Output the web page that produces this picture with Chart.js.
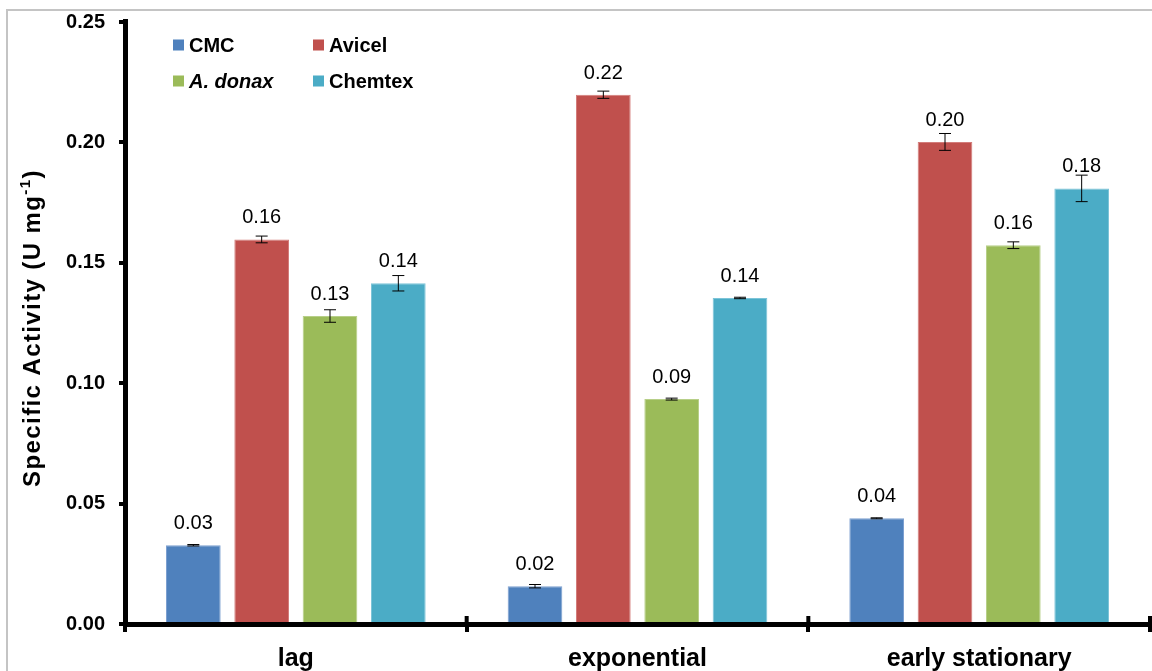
<!DOCTYPE html>
<html><head><meta charset="utf-8">
<script src="https://cdn.jsdelivr.net/npm/chart.js@4"></script>
<style>html,body{margin:0;padding:0;background:#fff;overflow:hidden;} canvas{display:block;}</style>
</head><body>
<canvas id="c" width="1152" height="671"></canvas>
<script>
// ---------- DATA ----------
const categories = ['lag', 'exponential', 'early stationary'];
const seriesNames = ['CMC', 'Avicel', 'A. donax', 'Chemtex'];
const cmcValues     = [0.0327, 0.0157, 0.0439];
const avicelValues  = [0.1597, 0.2198, 0.2002];
const donaxValues   = [0.1279, 0.0934, 0.1573];
const chemtexValues = [0.1415, 0.1354, 0.1809];
const cmcErrors     = [0.0003, 0.0007, 0.0002];
const avicelErrors  = [0.0014, 0.0015, 0.0035];
const donaxErrors   = [0.0026, 0.0004, 0.0014];
const chemtexErrors = [0.0032, 0.0003, 0.0055];
const yTickValues = [0, 0.05, 0.10, 0.15, 0.20, 0.25];
const yTitleMain = 'Specific Activity (U mg';
const yTitleSup = '-1';
const yTitleEnd = ')';

// ---------- STYLE ----------
const FONT = '"Liberation Sans", Arial, Helvetica, sans-serif';
const seriesColors = ['#4F81BD', '#C0504D', '#9BBB59', '#4BACC6'];
const seriesEdges  = ['#7C9FD0', '#D37C7A', '#B7CF88', '#7CC4D8'];
const italicSeries = ['A. donax'];
Chart.defaults.font.family = FONT;

const allValues = [cmcValues, avicelValues, donaxValues, chemtexValues];
const allErrors = [cmcErrors, avicelErrors, donaxErrors, chemtexErrors];

const datasets = seriesNames.map((name, i) => ({
  label: name,
  data: allValues[i],
  errors: allErrors[i],
  backgroundColor: seriesColors[i],
  borderColor: seriesEdges[i],
  borderWidth: 1,
  categoryPercentage: 0.8,
  barPercentage: 0.8
}));

const framePlugin = {
  id: 'frame',
  beforeDraw(chart) {
    const ctx = chart.ctx;
    ctx.save();
    ctx.fillStyle = '#fff';
    ctx.fillRect(0, 0, chart.width, chart.height);
    ctx.strokeStyle = '#C4C4C4';
    ctx.lineWidth = 2;
    ctx.beginPath();
    ctx.moveTo(7, chart.height);
    ctx.lineTo(7, 10);
    ctx.lineTo(chart.width, 10);
    ctx.stroke();
    ctx.restore();
  }
};

const errorLabelPlugin = {
  id: 'errorLabels',
  afterDatasetsDraw(chart) {
    const ctx = chart.ctx;
    const y = chart.scales.y;
    ctx.save();
    chart.data.datasets.forEach((ds, di) => {
      const meta = chart.getDatasetMeta(di);
      meta.data.forEach((bar, i) => {
        const v = ds.data[i], e = ds.errors[i];
        const yt = y.getPixelForValue(v + e);
        const yb = y.getPixelForValue(v - e);
        ctx.strokeStyle = '#000';
        ctx.lineWidth = 1;
        ctx.beginPath();
        ctx.moveTo(bar.x, yt); ctx.lineTo(bar.x, yb);
        ctx.moveTo(bar.x - 6, yt); ctx.lineTo(bar.x + 6, yt);
        ctx.moveTo(bar.x - 6, yb); ctx.lineTo(bar.x + 6, yb);
        ctx.stroke();
        ctx.fillStyle = '#000';
        ctx.font = '20px ' + FONT;
        ctx.textAlign = 'center';
        ctx.textBaseline = 'alphabetic';
        ctx.fillText(v.toFixed(2), bar.x, bar.y - 16);
      });
    });
    ctx.restore();
  }
};

const innerTickPlugin = {
  id: 'innerTicks',
  afterDraw(chart) {
    const xs = chart.scales.x;
    const ctx = chart.ctx;
    const step = xs.getPixelForValue(1) - xs.getPixelForValue(0);
    const start = xs.getPixelForValue(0) - step / 2;
    const bottom = chart.chartArea.bottom;
    ctx.save();
    ctx.fillStyle = '#000';
    for (let i = 1; i <= categories.length; i++) {
      const px = start + i * step;
      ctx.fillRect(px - 2, bottom - 8, 4, 8);
    }
    ctx.fillRect(chart.chartArea.left - 2, chart.chartArea.top - 3, 5, 4);
    ctx.restore();
  }
};

const legendPlugin = {
  id: 'customLegend',
  afterDraw(chart) {
    const ctx = chart.ctx;
    const colX = [173, 313];
    const rowY = [45, 81];
    ctx.save();
    ctx.textBaseline = 'middle';
    ctx.textAlign = 'left';
    chart.data.datasets.forEach((ds, i) => {
      const x = colX[i % 2], yc = rowY[Math.floor(i / 2)];
      ctx.fillStyle = ds.backgroundColor;
      ctx.fillRect(x, yc - 5.5, 11, 11);
      ctx.fillStyle = '#000';
      const it = italicSeries.includes(ds.label) ? 'italic ' : '';
      ctx.font = it + 'bold 20px ' + FONT;
      ctx.fillText(ds.label, x + 16, yc + 1);
    });
    ctx.restore();
  }
};

const yTitlePlugin = {
  id: 'yTitle',
  afterDraw(chart) {
    const ctx = chart.ctx;
    const ca = chart.chartArea;
    ctx.save();
    ctx.translate(40, (ca.top + ca.bottom) / 2 + 5);
    ctx.rotate(-Math.PI / 2);
    ctx.fillStyle = '#000';
    ctx.textBaseline = 'alphabetic';
    ctx.textAlign = 'left';
    const mainFont = 'bold 24px ' + FONT;
    const supFont = 'bold 15px ' + FONT;
    ctx.letterSpacing = '1.4px';
    ctx.font = mainFont; const w1 = ctx.measureText(yTitleMain).width;
    ctx.font = supFont; const w2 = ctx.measureText(yTitleSup).width;
    ctx.font = mainFont; const w3 = ctx.measureText(yTitleEnd).width;
    let x = -(w1 + w2 + w3) / 2;
    ctx.font = mainFont; ctx.fillText(yTitleMain, x, 0); x += w1;
    ctx.font = supFont; ctx.fillText(yTitleSup, x, -10); x += w2;
    ctx.font = mainFont; ctx.fillText(yTitleEnd, x, 0);
    ctx.restore();
  }
};

new Chart(document.getElementById('c'), {
  type: 'bar',
  data: { labels: categories, datasets },
  options: {
    responsive: false,
    animation: false,
    devicePixelRatio: 1,
    layout: { padding: { left: 0, right: 2, top: 22, bottom: 0 } },
    plugins: { legend: { display: false }, tooltip: { enabled: false } },
    scales: {
      x: {
        ticks: { font: { size: 25, weight: 'bold' }, color: '#000', padding: 12 },
        grid: { offset: true, drawOnChartArea: false, drawTicks: true, tickLength: 8, lineWidth: 4, color: '#000' },
        border: { display: true, width: 5, color: '#000' },
        afterFit: s => { s.height = 47; s.paddingLeft = 0; s.paddingRight = 0; }
      },
      y: {
        min: 0, max: 0.25,
        afterBuildTicks: s => { s.ticks = yTickValues.map(v => ({ value: v })); },
        ticks: { callback: v => Number(v).toFixed(2), font: { size: 20, weight: 'bold' }, color: '#000', padding: 14 },
        grid: { drawOnChartArea: false, drawTicks: true, tickLength: 6, lineWidth: 4, color: '#000' },
        border: { display: true, width: 5, color: '#000' },
        afterFit: s => { s.width = 125; s.paddingTop = 0; s.paddingBottom = 0; }
      }
    }
  },
  plugins: [framePlugin, errorLabelPlugin, innerTickPlugin, legendPlugin, yTitlePlugin]
});
</script>
</body></html>
